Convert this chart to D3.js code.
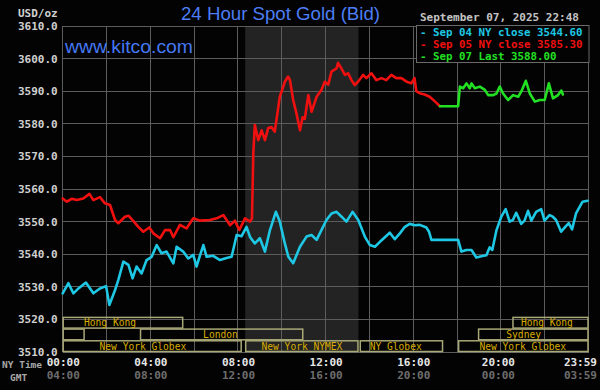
<!DOCTYPE html>
<html><head><meta charset="utf-8">
<script src="https://cdn.jsdelivr.net/npm/d3@7"></script>
<style>html,body{margin:0;padding:0;background:#000;}svg{display:block;}</style>
</head><body>
<svg id="chart" width="600" height="390"></svg>
<script>
// ---------- DATA ----------
const yTicks = [3510, 3520, 3530, 3540, 3550, 3560, 3570, 3580, 3590, 3600, 3610];
const gridHours = [0, 2, 4, 6, 8, 10, 12, 14, 16, 18, 20, 22, 24];
const xTickHours = [0, 4, 8, 12, 16, 20, 24];
const nyTimeLabels = ["00:00", "04:00", "08:00", "12:00", "16:00", "20:00", "23:59"];
const gmtLabels = ["04:00", "08:00", "12:00", "16:00", "20:00", "00:00", "03:59"];

// Sep 04 (cyan)
const sep04Hours = [0, 0.26, 0.49, 0.72, 1.06, 1.4, 1.7, 1.98, 2.13, 2.39, 2.54, 2.77, 3.0, 3.19, 3.37, 3.6, 3.83, 4.06, 4.29, 4.51, 4.74, 5.05, 5.2, 5.5, 5.73, 5.96, 6.11, 6.26, 6.42, 6.57, 6.87, 7.18, 7.48, 7.71, 7.94, 8.16, 8.39, 8.55, 8.77, 9.0, 9.23, 9.46, 9.73, 9.91, 10.14, 10.3, 10.52, 10.83, 11.13, 11.36, 11.59, 11.81, 12.04, 12.27, 12.5, 12.73, 12.95, 13.23, 13.49, 13.79, 14.02, 14.25, 14.48, 14.93, 15.16, 15.39, 15.62, 15.84, 16.07, 16.3, 16.6, 16.72, 16.83, 18.05, 18.2, 18.43, 18.66, 18.88, 19.11, 19.34, 19.49, 19.61, 19.8, 20.02, 20.22, 20.4, 20.55, 20.7, 20.93, 21.08, 21.24, 21.39, 21.61, 21.84, 21.99, 22.22, 22.37, 22.52, 22.75, 22.98, 23.1, 23.25, 23.43, 23.73, 23.96];
const sep04Values = [3528, 3531.1, 3528, 3529.5, 3531.3, 3528, 3529.5, 3530.2, 3524.4, 3529, 3532.1, 3537.7, 3536.7, 3532.6, 3536.2, 3534.1, 3538.2, 3539.2, 3542.8, 3540.3, 3540.8, 3537.2, 3542.3, 3540.8, 3538.7, 3539.8, 3536.2, 3539.5, 3542.8, 3539.2, 3539.5, 3538.2, 3538.8, 3539.2, 3545.9, 3545.5, 3548.4, 3545.3, 3543.3, 3544.9, 3540.8, 3547.4, 3553, 3550, 3543.3, 3539.2, 3537.2, 3542.3, 3545.4, 3545.9, 3544.4, 3547.4, 3550.5, 3552.5, 3553, 3551.5, 3550, 3553, 3550.5, 3545.4, 3542.8, 3542.3, 3543.8, 3546.6, 3544.6, 3546.4, 3548.4, 3549.3, 3548.9, 3549, 3548.2, 3546.9, 3544.4, 3544.4, 3540.8, 3541.3, 3541.3, 3539, 3539.4, 3539.7, 3542.1, 3541.3, 3547.4, 3551.5, 3553.8, 3550, 3550.5, 3552.7, 3549.3, 3550.3, 3553.3, 3550.3, 3553, 3553.8, 3550.3, 3552, 3551.5, 3550.5, 3546.9, 3548.7, 3549.5, 3547.6, 3552.5, 3556.1, 3556.4];

// Sep 05 (red)
const sep05Hours = [0, 0.19, 0.41, 0.64, 0.94, 1.22, 1.4, 1.7, 1.93, 2.16, 2.39, 2.54, 2.84, 3.0, 3.22, 3.45, 3.68, 3.95, 4.14, 4.44, 4.67, 4.9, 5.05, 5.35, 5.65, 5.96, 6.26, 6.72, 7.03, 7.33, 7.64, 7.86, 8.06, 8.32, 8.55, 8.64, 8.7, 8.77, 8.93, 9.08, 9.23, 9.38, 9.53, 9.68, 9.91, 10.14, 10.29, 10.37, 10.52, 10.67, 10.83, 10.95, 11.05, 11.21, 11.36, 11.59, 11.81, 11.96, 12.12, 12.27, 12.5, 12.57, 12.72, 12.88, 13.03, 13.18, 13.33, 13.48, 13.71, 13.86, 14.09, 14.32, 14.55, 14.77, 15.0, 15.23, 15.46, 15.68, 15.91, 16.06, 16.14, 16.29, 16.52, 16.75, 17.0, 17.22];
const sep05Values = [3557.1, 3556.1, 3557, 3556.6, 3557.1, 3558.5, 3556.6, 3557.5, 3555.6, 3555.1, 3550.5, 3549.5, 3551.5, 3551.8, 3550.2, 3548.4, 3546.9, 3548.2, 3546.4, 3544.9, 3547.4, 3547.4, 3545.2, 3549, 3547.9, 3551, 3550.3, 3550.5, 3551, 3552, 3548.9, 3550.3, 3547.4, 3551, 3550, 3551, 3571, 3579.6, 3575, 3578, 3575, 3578.7, 3579, 3577.6, 3588.3, 3592.9, 3594.5, 3593.5, 3587.3, 3583.2, 3578, 3582, 3581.5, 3588.8, 3583.7, 3588.3, 3590.4, 3592.9, 3592, 3596, 3597, 3598.7, 3597, 3595, 3595.5, 3593.4, 3591.9, 3592.9, 3595, 3594, 3595.5, 3593.4, 3594, 3593.4, 3595, 3594, 3594, 3593, 3592.4, 3594, 3590, 3589.4, 3589, 3588.3, 3586.8, 3585.4];

// Sep 07 (green)
const sep07Hours = [17.22, 18.05, 18.13, 18.28, 18.43, 18.58, 18.66, 18.81, 19.04, 19.27, 19.42, 19.65, 19.8, 19.95, 20.1, 20.33, 20.56, 20.79, 20.94, 21.14, 21.32, 21.55, 21.78, 22.0, 22.19, 22.38, 22.61, 22.76, 22.83];
const sep07Values = [3585.4, 3585.4, 3591.4, 3590.9, 3592.4, 3590.9, 3592.4, 3590.9, 3591.4, 3590.4, 3588.8, 3588.8, 3589.3, 3591.4, 3589.3, 3587.3, 3588.8, 3588.3, 3590, 3593.2, 3589.3, 3586.8, 3587.3, 3587.3, 3592.4, 3587.8, 3588.8, 3590.2, 3589];

const legendLabels = ["Sep 04 NY close 3544.60", "Sep 05 NY close 3585.30", "Sep 07 Last 3588.00"];

// trading sessions (hours, NY time)
const sessionNames = ["Hong Kong", "", "London", "New York Globex", "New York NYMEX", "NY Globex", "New York Globex", "Sydney", "Hong Kong"];
const sessionRow = [0, 1, 1, 2, 2, 2, 2, 1, 0];
const sessionStart = [0, 0, 3.53, 0, 8.33, 13.56, 18.05, 18.96, 20.53];
const sessionEnd = [5.5, 1.0, 10.98, 8.17, 13.5, 17.36, 24, 24, 24];
const sessionLabelHour = [2.16, 0.5, 7.2, 3.66, 10.92, 15.2, 21.0, 21.04, 22.1];
const nymexShade = [8.33, 13.5];

// ---------- LAYOUT ----------
const svg = d3.select("#chart");
const L = 62.7, R = 588.5, T = 26, B = 352;
const x = d3.scaleLinear().domain([0, 24]).range([L, R]);
const y = d3.scaleLinear().domain([3510, 3610]).range([B, T]);
const mono = "'DejaVu Sans Mono', 'Liberation Mono', monospace";

svg.append("rect").attr("width", 600).attr("height", 390).attr("fill", "#030303");

// NYMEX shaded zone
svg.append("rect")
  .attr("x", x(nymexShade[0])).attr("y", T)
  .attr("width", x(nymexShade[1]) - x(nymexShade[0])).attr("height", B - T)
  .attr("fill", "#232323");

// grid
const grid = svg.append("g").attr("stroke", "#5c5c5c").attr("stroke-width", 1).attr("shape-rendering", "crispEdges");
grid.selectAll("line.h").data(yTicks).join("line")
  .attr("x1", L).attr("x2", R).attr("y1", d => y(d)).attr("y2", d => y(d));
grid.selectAll("line.v").data(gridHours).join("line")
  .attr("y1", T).attr("y2", B).attr("x1", d => x(d)).attr("x2", d => x(d));

// y axis labels
const yAxis = d3.axisLeft(y).tickValues(yTicks).tickFormat(d3.format(".1f")).tickSize(0).tickPadding(5);
const yg = svg.append("g").attr("transform", `translate(${L},0)`).call(yAxis);
yg.select(".domain").remove();
yg.selectAll("text").attr("font-family", mono).attr("font-weight", "bold").attr("font-size", 11).attr("fill", "#d0d0d0");

svg.append("text").attr("x", 18).attr("y", 17).text("USD/oz")
  .attr("font-family", mono).attr("font-weight", "bold").attr("font-size", 11).attr("fill", "#d0d0d0");

// x axis labels (NY time and GMT)
const xAxis = d3.axisBottom(x).tickValues(xTickHours).tickFormat((d, i) => nyTimeLabels[i]).tickSize(0).tickPadding(0);
const xg = svg.append("g").attr("transform", `translate(0,${B + 6})`).call(xAxis);
xg.select(".domain").remove();
xg.selectAll("text").attr("font-family", mono).attr("font-weight", "bold").attr("font-size", 11).attr("fill", "#e6e6e6")
  .attr("text-anchor", (d, i) => i === xTickHours.length - 1 ? "end" : "middle")
  .attr("dx", (d, i) => i === xTickHours.length - 1 ? 8 : (i === 5 ? -3 : 0));
const xAxis2 = d3.axisBottom(x).tickValues(xTickHours).tickFormat((d, i) => gmtLabels[i]).tickSize(0).tickPadding(0);
const xg2 = svg.append("g").attr("transform", `translate(0,${B + 19})`).call(xAxis2);
xg2.select(".domain").remove();
xg2.selectAll("text").attr("font-family", mono).attr("font-weight", "bold").attr("font-size", 11).attr("fill", "#6e6e6e")
  .attr("text-anchor", (d, i) => i === xTickHours.length - 1 ? "end" : "middle")
  .attr("dx", (d, i) => i === xTickHours.length - 1 ? 8 : (i === 5 ? -3 : 0));

svg.append("text").attr("x", 2).attr("y", 368).text("NY Time")
  .attr("font-family", mono).attr("font-size", 9.5).attr("font-weight", "bold").attr("fill", "#a8a8a8");
svg.append("text").attr("x", 10).attr("y", 381).text("GMT")
  .attr("font-family", mono).attr("font-size", 9.5).attr("font-weight", "bold").attr("fill", "#a8a8a8");

// sessions
const rowH = 11.7;
const rowTop = r => B - (3 - r) * rowH;
const sessions = sessionNames.map((n, i) => ({ name: n, row: sessionRow[i], s: sessionStart[i], e: sessionEnd[i], lh: sessionLabelHour[i] }));
const sg = svg.append("g");
sg.selectAll("rect").data(sessions).join("rect")
  .attr("x", d => x(d.s) + 0.5).attr("y", d => rowTop(d.row) + 0.5)
  .attr("width", d => x(d.e) - x(d.s) - 1).attr("height", rowH - 1)
  .attr("fill", "none").attr("stroke", "#a9a877").attr("stroke-width", 1.5);
sg.selectAll("text").data(sessions.filter(d => d.name)).join("text")
  .attr("x", d => x(d.lh)).attr("y", d => rowTop(d.row) + rowH / 2 + 3.5)
  .attr("text-anchor", "middle").text(d => d.name)
  .attr("font-family", mono).attr("font-size", 9.6).attr("fill", "#d8ae00");

// series lines
const line = d3.line().x(d => x(d[0])).y(d => y(d[1]));
function drawSeries(hours, values, color) {
  svg.append("path").datum(hours.map((h, i) => [h, values[i]]))
    .attr("d", line).attr("fill", "none").attr("stroke", color)
    .attr("stroke-width", 2.6).attr("stroke-linejoin", "round").attr("stroke-linecap", "round");
}
drawSeries(sep04Hours, sep04Values, "#1ec8e4");
drawSeries(sep05Hours, sep05Values, "#f01010");
drawSeries(sep07Hours, sep07Values, "#22e022");

// title / website
svg.append("text").attr("x", 181).attr("y", 20).text("24 Hour Spot Gold (Bid)")
  .attr("font-family", "'Liberation Sans', Arial, sans-serif").attr("font-size", 18)
  .attr("textLength", 199).attr("lengthAdjust", "spacingAndGlyphs").attr("fill", "#4d7ef5");
svg.append("text").attr("x", 65).attr("y", 53).text("www.kitco.com")
  .attr("font-family", "'Liberation Sans', Arial, sans-serif").attr("font-size", 19)
  .attr("textLength", 128).attr("lengthAdjust", "spacingAndGlyphs").attr("fill", "#4578f2");

// date
svg.append("text").attr("x", 420).attr("y", 21).text("September 07, 2025 22:48")
  .attr("font-family", mono).attr("font-weight", "bold").attr("font-size", 11).attr("fill", "#c4c4c4");

// legend
svg.append("rect").attr("x", 416.5).attr("y", 25.5).attr("width", 172.5).attr("height", 37)
  .attr("fill", "#030303").attr("stroke", "#6a6a6a").attr("stroke-width", 1);
const legendColors = ["#1ec8e4", "#f01010", "#22e022"];
svg.selectAll("text.leg").data(legendLabels).join("text").attr("class", "leg")
  .attr("x", 420).attr("y", (d, i) => 36 + i * 11.8)
  .text(d => "- " + d)
  .attr("textLength", d => (d.length + 2) * 6.5).attr("lengthAdjust", "spacingAndGlyphs")
  .attr("font-family", mono).attr("font-weight", "bold").attr("font-size", 10)
  .attr("fill", (d, i) => legendColors[i]);
</script>
</body></html>
